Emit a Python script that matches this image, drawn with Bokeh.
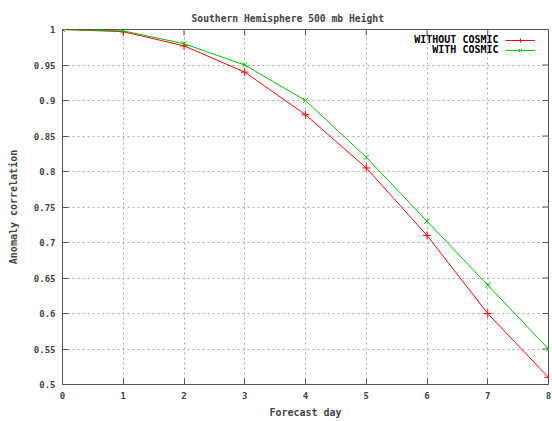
import math
from bokeh.plotting import figure
from bokeh.models import Range1d, FixedTicker, Legend, LegendItem, Label
from bokeh.embed import file_html
from bokeh.resources import INLINE

# ---- data ----
days = [0, 1, 2, 3, 4, 5, 6, 7, 8]
without_cosmic = [1.0, 0.997, 0.977, 0.940, 0.880, 0.805, 0.710, 0.600, 0.510]
with_cosmic = [1.0, 0.998, 0.980, 0.950, 0.900, 0.820, 0.730, 0.640, 0.550]
series_names = ["WITHOUT COSMIC", "WITH COSMIC"]
x_ticks = [0, 1, 2, 3, 4, 5, 6, 7, 8]
x_tick_labels = ["0", "1", "2", "3", "4", "5", "6", "7", "8"]
y_ticks = [0.5, 0.55, 0.6, 0.65, 0.7, 0.75, 0.8, 0.85, 0.9, 0.95, 1.0]
y_tick_labels = ["0.5", "0.55", "0.6", "0.65", "0.7", "0.75", "0.8", "0.85", "0.9", "0.95", "1"]
title_text = "Southern Hemisphere 500 mb Height"
x_label = "Forecast day"
y_label = "Anomaly correlation"

FONT = "DejaVu Sans Mono"
FS = "10px"
TFS = "9px"
BORDER = "#555555"
GRID = "#a8a8a8"
RED = "#ff0000"
GREEN = "#00c000"

p = figure(width=552, height=421, output_backend="svg", toolbar_location=None,
           x_range=Range1d(0, 8), y_range=Range1d(0.5, 1.0),
           min_border_left=62, min_border_right=4, min_border_top=29, min_border_bottom=37)

p.title.text = title_text
p.title.text_font = FONT
p.title.text_font_size = "9.7px"
p.title.text_font_style = "bold"
p.title.align = "left"
p.title.offset = 129
p.title.standoff = 12

p.outline_line_color = BORDER
p.outline_line_width = 1
p.background_fill_color = "white"
p.border_fill_color = "white"

xa = p.xaxis[0]
ya = p.yaxis[0]
xa.ticker = FixedTicker(ticks=x_ticks)
ya.ticker = FixedTicker(ticks=y_ticks)
xa.major_label_overrides = {t: s for t, s in zip(x_ticks, x_tick_labels)}
ya.major_label_overrides = {t: s for t, s in zip(y_ticks, y_tick_labels)}
for ax, lab in ((xa, x_label), (ya, y_label)):
    ax.axis_label = lab
    ax.axis_label_text_font = FONT
    ax.axis_label_text_font_size = FS
    ax.axis_label_text_font_style = "bold"
    ax.major_label_text_font = FONT
    ax.major_label_text_font_size = TFS
    ax.major_label_text_font_style = "bold"
    ax.axis_line_color = BORDER
    ax.major_tick_line_color = BORDER
    ax.major_tick_in = 6
    ax.major_tick_out = 0
    ax.minor_tick_in = 0
    ax.minor_tick_out = 0
xa.major_label_standoff = 7
xa.axis_label_standoff = 5
ya.major_label_standoff = 7
ya.axis_label_standoff = 12

p.xgrid.ticker = FixedTicker(ticks=x_ticks)
p.ygrid.ticker = FixedTicker(ticks=y_ticks)
for g in (p.xgrid, p.ygrid):
    g.grid_line_color = GRID
    g.grid_line_dash = "2 3"
    g.grid_line_width = 1

# mirror ticks on top and right border (gnuplot style), clipped to the frame
p.scatter(x_ticks, [y_ticks[-1]] * len(x_ticks), marker="dash", angle=math.pi / 2,
          size=12, line_color=BORDER, line_width=1)
p.scatter([x_ticks[-1]] * len(y_ticks), y_ticks, marker="dash",
          size=12, line_color=BORDER, line_width=1)

r1l = p.line(days, without_cosmic, line_color=RED, line_width=1)
r1m = p.scatter(days, without_cosmic, marker="cross", size=8, line_color=RED, line_width=1)
r2l = p.line(days, with_cosmic, line_color=GREEN, line_width=1)
r2m = p.scatter(days, with_cosmic, marker="x", size=7, line_color=GREEN, line_width=1)

# legend samples (gnuplot puts the sample to the right of the text)
legend = Legend(items=[LegendItem(label="", renderers=[r1l, r1m]),
                       LegendItem(label="", renderers=[r2l, r2m])],
                location=(443, 329.5), glyph_width=30, glyph_height=10, label_height=10,
                label_width=0, label_standoff=0, spacing=0, padding=0, margin=0,
                border_line_alpha=0, background_fill_alpha=0)
p.add_layout(legend, "center")

for i, name in enumerate(series_names):
    p.add_layout(Label(x=436, y=345 - 10 * i, x_units="screen", y_units="screen",
                       text=name, text_align="right", text_baseline="middle",
                       text_font=FONT, text_font_size=FS, text_font_style="bold",
                       text_color="black"))

open("out.html", "w").write(file_html(p, INLINE))
